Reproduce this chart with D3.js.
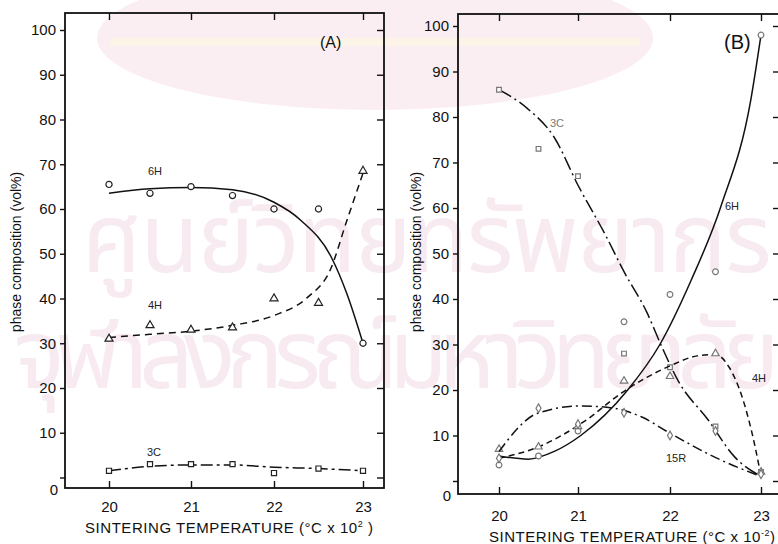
<!DOCTYPE html>
<html>
<head>
<meta charset="utf-8">
<script src="https://cdn.jsdelivr.net/npm/d3@7/dist/d3.min.js"></script>
<style>
  body { margin: 0; background: #fff; }
  svg text { font-family: "Liberation Sans", Arial, sans-serif; fill: #111; }
</style>
</head>
<body>
<svg id="chart" width="778" height="544"></svg>
<script>
// sintering temperatures (x 100 °C) where samples were measured
const temps = [20, 20.5, 21, 21.5, 22, 22.5, 23];
const tempTicks = [20, 21, 22, 23];
const pctTicks = [0, 10, 20, 30, 40, 50, 60, 70, 80, 90, 100];

// panel A: measured points (vol%)
const a6H = [65.5, 63.5, 65, 63, 60, 60, 30];
const a4H = [31, 34, 33, 33.5, 40, 39, 68.5];
const a3C = [1.5, 3, 3, 3, 1, 2, 1.5];

// panel A: drawn trend lines
const a6HLine = [[20, 63.5], [20.5, 64.5], [21, 64.8], [21.5, 64.3], [22, 61.5], [22.3, 57.5], [22.65, 49], [22.82, 41], [23, 30]];
const a4HLine = [[20, 31.3], [20.5, 32], [21, 32.7], [21.5, 34], [22, 36.2], [22.38, 40.3], [22.63, 46.3], [22.82, 57.5], [23, 68]];
const a3CLine = [[20, 1.5], [20.5, 2.5], [21, 2.8], [21.5, 2.8], [22, 2.3], [22.5, 2], [23, 1.5]];

// panel B: measured points (vol%)
const b3C = [86, 73, 67, 28, 25, 12, 2];
const b6H = [3.5, 5.5, 11, 35, 41, 46, 98];
const b4H = [7, 7.5, 12, 22, 23, 28, 2];
const b15R = [5, 16, 12.5, 15, 10, 11, 1.5];

// panel B: drawn trend lines
const b3CLine = [[20, 86], [20.35, 82], [20.7, 75.5], [21, 65], [21.3, 54], [21.5, 46], [21.75, 37], [21.9, 30], [22.09, 22], [22.42, 13.4], [22.71, 5.3], [23, 1]];
const b6HLine = [[20, 5.5], [20.37, 4.8], [20.7, 6.5], [21.03, 10], [21.54, 20], [21.89, 30], [22.23, 44], [22.56, 60.4], [22.89, 84], [23, 98]];
const b4HLine = [[20, 5], [20.5, 7.5], [21.09, 13.4], [21.47, 19.3], [22, 25.3], [22.3, 27.5], [22.5, 27.8], [22.65, 25], [22.8, 18], [22.93, 8], [23, 1]];
const b15RLine = [[20, 6.5], [20.49, 14.9], [21.03, 16.5], [21.39, 16], [21.7, 14], [22, 10.5], [22.56, 4.6], [23, 1]];

const svg = d3.select('#chart');

// faint library watermark behind the scan
const wm = svg.append('g').attr('class', 'watermark');
wm.append('ellipse')
  .attr('cx', 375).attr('cy', 38).attr('rx', 278).attr('ry', 72)
  .style('fill', '#f9e2e9').style('opacity', 0.6);
wm.append('rect')
  .attr('x', 110).attr('y', 38).attr('width', 530).attr('height', 8)
  .style('fill', '#fcf5e2').style('opacity', 0.8);
wm.append('text')
  .attr('x', 80).attr('y', 272)
  .attr('textLength', 690)
  .style('font-family', '"Noto Sans Thai", "Noto Sans", "DejaVu Sans", sans-serif')
  .style('font-size', '96px')
  .style('fill', '#f7eaf0')
  .text('ศูนย์วิทยทรัพยากร');
wm.append('text')
  .attr('x', 4).attr('y', 388)
  .attr('textLength', 766)
  .style('font-family', '"Noto Sans Thai", "Noto Sans", "DejaVu Sans", sans-serif')
  .style('font-size', '96px')
  .style('fill', '#f7eaf0')
  .text('จุฬาลงกรณ์มหาวิทยาลัย');

const line = d3.line().curve(d3.curveMonotoneX);

function drawPanel(cfg) {
  const g = svg.append('g');
  const x = d3.scaleLinear().domain(tempTicks).range(cfg.xRange);
  const y = d3.scaleLinear().domain([0, 100]).range(cfg.yRange);
  const { left, right, top, bottom } = cfg.frame;

  // inward ticks on top / right / bottom, outward on the left
  g.append('g')
    .attr('transform', `translate(0,${top})`)
    .call(d3.axisBottom(x).tickValues(tempTicks).tickSize(7).tickFormat(''))
    .call(s => s.select('.domain').remove());
  g.append('g')
    .attr('transform', `translate(0,${bottom})`)
    .call(d3.axisTop(x).tickValues(tempTicks).tickSize(7).tickFormat(''))
    .call(s => s.select('.domain').remove());
  g.append('g')
    .attr('transform', `translate(${right},0)`)
    .call(d3.axisLeft(y).tickValues(pctTicks).tickSize(7).tickFormat(''))
    .call(s => s.select('.domain').remove());
  const ya = g.append('g')
    .attr('transform', `translate(${left},0)`)
    .call(d3.axisLeft(y).tickValues(pctTicks).tickSize(5).tickPadding(4)
      .tickFormat(d => d === 0 ? '' : d))
    .call(s => s.select('.domain').remove());
  ya.selectAll('text').style('font-size', '15px');
  g.append('text')
    .attr('x', left - 7).attr('y', bottom + 7)
    .attr('text-anchor', 'end')
    .style('font-size', '15px')
    .text('0');

  const xa = g.append('g')
    .attr('transform', `translate(0,${bottom})`)
    .call(d3.axisBottom(x).tickValues(tempTicks).tickSize(0).tickPadding(cfg.xLabelPad)
      .tickFormat(d3.format('d')))
    .call(s => s.select('.domain').remove());
  xa.selectAll('text').style('font-size', '15px');
  g.selectAll('.tick line').style('stroke', '#111').style('stroke-width', 1.4);

  g.append('rect')
    .attr('x', left).attr('y', top)
    .attr('width', right - left).attr('height', bottom - top)
    .style('fill', 'none').style('stroke', '#111').style('stroke-width', 1.8);

  // axis titles
  g.append('text')
    .attr('transform', `translate(${cfg.yTitleX},${cfg.yTitleY}) rotate(-90)`)
    .attr('text-anchor', 'middle')
    .style('font-size', '14px')
    .text('phase composition (vol%)');
  const xt = g.append('text')
    .attr('x', cfg.xTitle[0]).attr('y', cfg.xTitle[1])
    .attr('textLength', cfg.xTitle[2])
    .style('font-size', '15px')
    .text('SINTERING TEMPERATURE (°C x 10');
  xt.append('tspan').attr('dy', -6).style('font-size', '9px').text(cfg.exponent);
  xt.append('tspan').attr('dy', 6).text(cfg.closing);

  g.append('text')
    .attr('x', cfg.tag[0]).attr('y', cfg.tag[1])
    .style('font-size', cfg.tagSize)
    .text(cfg.tagText);

  // curves
  cfg.series.forEach(s => {
    g.append('path')
      .datum(s.line)
      .attr('d', line.x(d => x(d[0])).y(d => y(d[1])))
      .style('fill', 'none')
      .style('stroke', '#111')
      .style('stroke-width', 1.5)
      .style('stroke-dasharray', s.dash);

    const sym = d3.symbol().type(s.shape).size(s.size);
    g.selectAll(null)
      .data(s.values.map((v, i) => [temps[i], v]))
      .join('path')
      .attr('transform', d => `translate(${x(d[0])},${y(d[1])})`)
      .attr('d', sym)
      .style('fill', '#fff')
      .style('stroke', cfg.markStroke)
      .style('stroke-width', 1.2);

    g.append('text')
      .attr('x', s.label[0]).attr('y', s.label[1])
      .style('font-size', '11px')
      .style('fill', s.labelColor || '#222')
      .text(s.name);
  });
}

drawPanel({
  xRange: [109, 191, 274, 363],
  yRange: [477.5, 30],
  frame: { left: 65, right: 384, top: 13, bottom: 488 },
  xLabelPad: 13,
  yTitleX: 21, yTitleY: 252,
  xTitle: [85, 533, 288],
  exponent: '2', closing: ' )',
  tag: [320, 48], tagSize: '16px', tagText: '(A)',
  markStroke: '#222',
  series: [
    { name: '6H', values: a6H, line: a6HLine, dash: null, shape: d3.symbolCircle, size: 30, label: [148, 175] },
    { name: '4H', values: a4H, line: a4HLine, dash: '7,5', shape: d3.symbolTriangle, size: 28, label: [148, 309] },
    { name: '3C', values: a3C, line: a3CLine, dash: '12,4,3,4', shape: d3.symbolSquare, size: 26, label: [147, 456] }
  ]
});

drawPanel({
  xRange: [499, 578, 670, 761],
  yRange: [481, 26],
  frame: { left: 458, right: 780, top: 14, bottom: 494 },
  xLabelPad: 16,
  yTitleX: 421, yTitleY: 252,
  xTitle: [489, 542, 286],
  exponent: '-2', closing: ')',
  tag: [724, 49], tagSize: '20px', tagText: '(B)',
  markStroke: '#777',
  series: [
    { name: '3C', values: b3C, line: b3CLine, dash: '14,4,2,4', shape: d3.symbolSquare, size: 22, label: [550, 127], labelColor: '#777' },
    { name: '6H', values: b6H, line: b6HLine, dash: null, shape: d3.symbolCircle, size: 26, label: [725, 210] },
    { name: '4H', values: b4H, line: b4HLine, dash: '6,4', shape: d3.symbolTriangle, size: 24, label: [752, 382] },
    { name: '15R', values: b15R, line: b15RLine, dash: '10,4,2,4', shape: d3.symbolDiamond, size: 22, label: [666, 462] }
  ]
});
</script>
</body>
</html>
